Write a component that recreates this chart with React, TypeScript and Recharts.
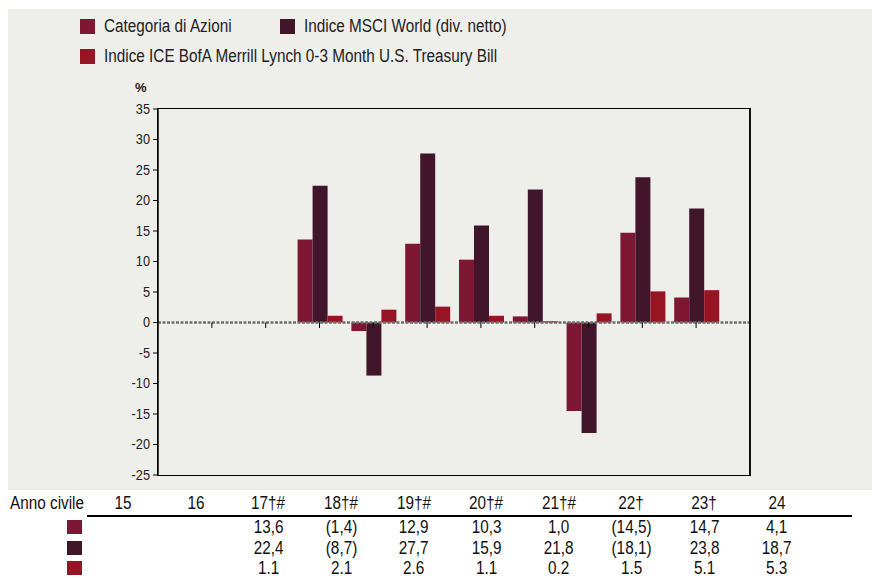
import { BarChart, Bar, XAxis, YAxis, ReferenceLine } from 'recharts'

const years = ['15', '16', '17', '18', '19', '20', '21', '22', '23', '24']
const yearLabels = ['15', '16', '17†#', '18†#', '19†#', '20†#', '21†#', '22†', '23†', '24']
const categoria = [null, null, 13.6, -1.4, 12.9, 10.3, 1.0, -14.5, 14.7, 4.1]
const msci = [null, null, 22.4, -8.7, 27.7, 15.9, 21.8, -18.1, 23.8, 18.7]
const ice = [null, null, 1.1, 2.1, 2.6, 1.1, 0.2, 1.5, 5.1, 5.3]
const yTicks = [-25, -20, -15, -10, -5, 0, 5, 10, 15, 20, 25, 30, 35]

const FONT = "'Liberation Sans', Arial, sans-serif"
const PANEL = '#EEEEEA'
// no narrow font installed, so squeeze the regular one
const SQUEEZE = 0.85

const series = [
  { key: 'categoria', name: 'Categoria di Azioni', color: '#7E1733', values: categoria, sep: ',' },
  { key: 'msci', name: 'Indice MSCI World (div. netto)', color: '#42162A', values: msci, sep: ',' },
  { key: 'ice', name: 'Indice ICE BofA Merrill Lynch 0-3 Month U.S. Treasury Bill', color: '#971425', values: ice, sep: '.' },
]

const data = years.map((year, i) => ({
  year,
  categoria: categoria[i],
  msci: msci[i],
  ice: ice[i],
}))

function fmt(v: number | null, sep: string) {
  if (v === null) return ''
  const s = Math.abs(v).toFixed(1).replace('.', sep)
  return v < 0 ? `(${s})` : s
}

function Narrow({ children, origin = 'center' }: { children: React.ReactNode; origin?: string }) {
  return (
    <span style={{ display: 'inline-block', whiteSpace: 'nowrap', transform: `scaleX(${SQUEEZE})`, transformOrigin: origin }}>
      {children}
    </span>
  )
}

function YTick({ x, y, payload }: any) {
  return (
    <text
      x={x}
      y={y}
      dy={5}
      textAnchor="end"
      fill="#222"
      fontSize={15}
      fontFamily={FONT}
      transform={`translate(${x},0) scale(${SQUEEZE},1) translate(${-x},0)`}
    >
      {payload.value}
    </text>
  )
}

function LegendBox() {
  return (
    <div
      style={{
        position: 'absolute',
        left: 80,
        top: 16,
        display: 'grid',
        gridTemplateColumns: '200px auto',
        rowGap: 9,
        fontFamily: FONT,
        fontSize: 18,
        color: '#222',
      }}
    >
      {series.map((s, i) => (
        <div
          key={s.key}
          style={{ display: 'flex', alignItems: 'center', gridColumn: i === 2 ? '1 / span 2' : undefined }}
        >
          <span style={{ width: 15, height: 15, background: s.color, marginRight: 9, display: 'inline-block' }} />
          <Narrow origin="left">{s.name}</Narrow>
        </div>
      ))}
    </div>
  )
}

function Table() {
  const cell = { width: 72.6, textAlign: 'center' as const }
  return (
    <div style={{ position: 'absolute', left: 0, top: 491, width: 872, fontFamily: FONT, fontSize: 18, color: '#111' }}>
      <div style={{ display: 'flex', height: 24, alignItems: 'center' }}>
        <div style={{ width: 87, paddingLeft: 10, boxSizing: 'border-box' }}>
          <Narrow origin="left">Anno civile</Narrow>
        </div>
        {yearLabels.map((y) => (
          <div key={y} style={cell}><Narrow>{y}</Narrow></div>
        ))}
      </div>
      <div style={{ marginLeft: 87, width: 765, borderTop: '2px solid #000' }} />
      {series.map((s) => (
        <div key={s.key} style={{ display: 'flex', height: 20.5, alignItems: 'center', lineHeight: '20px' }}>
          <div style={{ width: 87, display: 'flex' }}>
            <span style={{ marginLeft: 67, width: 15, height: 14, background: s.color, display: 'inline-block' }} />
          </div>
          {s.values.map((v, i) => (
            <div key={i} style={cell}><Narrow>{fmt(v, s.sep)}</Narrow></div>
          ))}
        </div>
      ))}
    </div>
  )
}

export default function App() {
  return (
    <div style={{ position: 'absolute', left: 0, top: 0, width: 872, height: 578, background: '#fff', overflow: 'hidden' }}>
      <div style={{ position: 'absolute', left: 8, top: 9, width: 864, height: 481, background: PANEL }} />
      <LegendBox />
      <div
        style={{ position: 'absolute', left: 135, top: 80, fontFamily: FONT, fontSize: 13, fontWeight: 'bold', color: '#222' }}
      >
        %
      </div>
      <div style={{ position: 'absolute', left: 0, top: 0 }}>
        <BarChart
          width={872}
          height={578}
          data={data}
          margin={{ top: 109, right: 122, bottom: 103, left: 98 }}
          barCategoryGap={5}
          barGap={0}
        >
          <XAxis dataKey="year" padding={{ left: 27, right: 27 }} hide />
          <YAxis
            domain={[-25, 35]}
            ticks={yTicks}
            interval={0}
            width={60}
            tickSize={5}
            tickMargin={3}
            tickLine={{ stroke: '#000' }}
            axisLine={{ stroke: '#000', strokeWidth: 1.5 }}
            tick={<YTick />}
          />
          {series.map((s) => (
            <Bar key={s.key} dataKey={s.key} name={s.name} fill={s.color} isAnimationActive={false} />
          ))}
          <ReferenceLine y={0} stroke="#6E6E6E" strokeWidth={2.5} strokeDasharray="3 1.5" />
          {years.map((y) => (
            <ReferenceLine key={y} segment={[{ x: y, y: 0 }, { x: y, y: -0.9 }]} stroke="#000" strokeWidth={1} />
          ))}
        </BarChart>
      </div>
      {/* plot frame */}
      <div
        style={{
          position: 'absolute',
          left: 157,
          top: 108,
          width: 594,
          height: 368,
          boxSizing: 'border-box',
          borderTop: '1.5px solid #000',
          borderBottom: '1.5px solid #000',
          borderLeft: '1.5px solid #000',
          borderRight: '2px solid #111',
          pointerEvents: 'none',
        }}
      />
      <Table />
    </div>
  )
}
